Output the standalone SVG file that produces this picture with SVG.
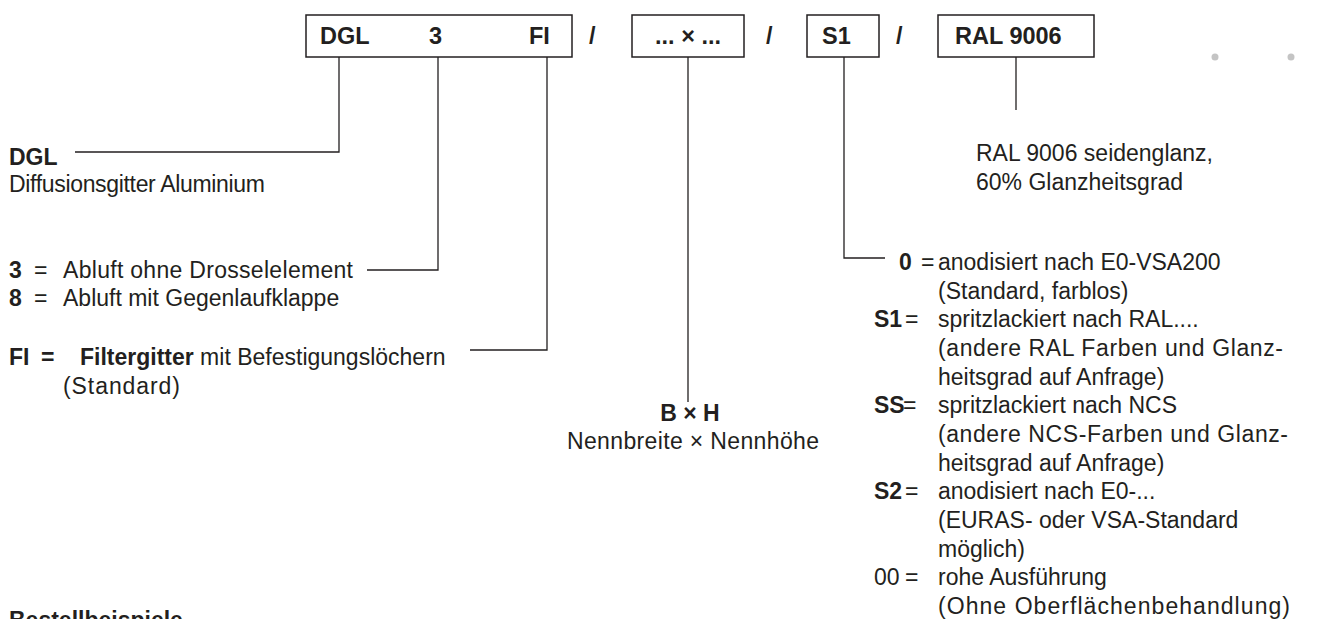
<svg xmlns="http://www.w3.org/2000/svg" width="1324" height="619" viewBox="0 0 1324 619">
<style>
text{font-family:"Liberation Sans",Arial,sans-serif;font-size:23px;fill:#231f20}
.b{font-weight:bold}
.bx{font-size:23.5px;font-weight:bold}
.box{fill:#fff;stroke:#231f20;stroke-width:1.5}
.ln{fill:none;stroke:#231f20;stroke-width:1.3}
.dot{fill:#c4c4c4}
</style>
<rect width="1324" height="619" fill="#fff"/>
<g id="connectors">
<polyline class="ln" points="339,57 339,152 75,152"/>
<polyline class="ln" points="438,57 438,270 367,270"/>
<polyline class="ln" points="547,57 547,350 470,350"/>
<polyline class="ln" points="688,57 688,402"/>
<polyline class="ln" points="844,57 844,258 885,258"/>
<polyline class="ln" points="1016,57 1016,110"/>
</g>
<g id="box-type">
<rect class="box" x="306" y="15" width="266" height="42"/>
<text class="bx" x="320" y="44">DGL</text>
<text class="bx" x="429" y="44">3</text>
<text class="bx" x="529" y="44">FI</text>
</g>
<text class="bx" x="589" y="44">/</text>
<g id="box-size">
<rect class="box" x="632" y="15" width="112" height="42"/>
<text class="bx" x="688" y="44" text-anchor="middle">... × ...</text>
</g>
<text class="bx" x="766" y="44">/</text>
<g id="box-surface">
<rect class="box" x="807" y="15" width="72" height="42"/>
<text class="bx" x="822" y="44">S1</text>
</g>
<text class="bx" x="896" y="44">/</text>
<g id="box-colour">
<rect class="box" x="938" y="15" width="156" height="42"/>
<text class="bx" x="955" y="44">RAL 9006</text>
</g>
<circle class="dot" cx="1215" cy="57" r="3.5"/>
<circle class="dot" cx="1291" cy="57" r="3.5"/>
<g id="desc-dgl">
<text class="b" x="9" y="165">DGL</text>
<text x="9" y="192" textLength="256" lengthAdjust="spacing">Diffusionsgitter Aluminium</text>
</g>
<g id="desc-3">
<text class="b" x="9" y="278">3</text>
<text x="34" y="278">=</text>
<text x="63" y="278" textLength="290" lengthAdjust="spacing">Abluft ohne Drosselelement</text>
<text class="b" x="9" y="306">8</text>
<text x="34" y="306">=</text>
<text x="63" y="306">Abluft mit Gegenlaufklappe</text>
</g>
<g id="desc-fi">
<text class="b" x="9" y="365">FI</text>
<text class="b" x="41" y="365">=</text>
<text x="80" y="365"><tspan class="b">Filtergitter</tspan> mit Befestigungslöchern</text>
<text x="63" y="394" textLength="117" lengthAdjust="spacing">(Standard)</text>
</g>
<g id="desc-size">
<text class="b" x="690" y="421" text-anchor="middle">B × H</text>
<text x="693" y="449" text-anchor="middle" textLength="252" lengthAdjust="spacing">Nennbreite × Nennhöhe</text>
</g>
<g id="desc-colour">
<text x="976" y="161">RAL 9006 seidenglanz,</text>
<text x="976" y="190">60% Glanzheitsgrad</text>
</g>
<g id="desc-surface">
<text class="b" x="899" y="270">0</text>
<text x="921" y="270">=</text>
<text x="938" y="270">anodisiert nach E0-VSA200</text>
<text x="938" y="299">(Standard, farblos)</text>
<text class="b" x="874" y="327">S1</text>
<text x="905" y="327">=</text>
<text x="938" y="327">spritzlackiert nach RAL....</text>
<text x="938" y="356" textLength="345" lengthAdjust="spacing">(andere RAL Farben und Glanz-</text>
<text x="938" y="385">heitsgrad auf Anfrage)</text>
<text class="b" x="874" y="413">SS</text>
<text x="903" y="413">=</text>
<text x="938" y="413">spritzlackiert nach NCS</text>
<text x="938" y="442" textLength="350" lengthAdjust="spacing">(andere NCS-Farben und Glanz-</text>
<text x="938" y="471">heitsgrad auf Anfrage)</text>
<text class="b" x="874" y="499">S2</text>
<text x="905" y="499">=</text>
<text x="938" y="499">anodisiert nach E0-...</text>
<text x="938" y="528">(EURAS- oder VSA-Standard</text>
<text x="938" y="557">möglich)</text>
<text x="874" y="585">00</text>
<text x="905" y="585">=</text>
<text x="938" y="585">rohe Ausführung</text>
<text x="938" y="614" textLength="352" lengthAdjust="spacing">(Ohne Oberflächenbehandlung)</text>
</g>
<text class="b" x="9" y="628">Bestellbeispiele</text>
</svg>
